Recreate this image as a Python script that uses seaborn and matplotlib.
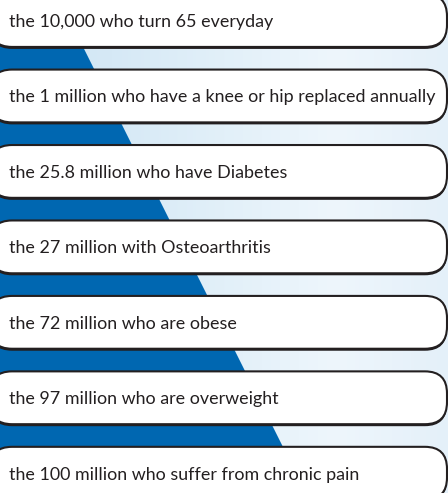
import numpy as np
import matplotlib
matplotlib.use("Agg")
import matplotlib.pyplot as plt
import matplotlib.colors as mcolors
import seaborn as sns
from matplotlib.patches import FancyBboxPatch, Polygon

# facts shown in the banners, top to bottom
labels = [
    "the 10,000 who turn 65 everyday",
    "the 1 million who have a knee or hip replaced annually",
    "the 25.8 million who have Diabetes",
    "the 27 million with Osteoarthritis",
    "the 72 million who are obese",
    "the 97 million who are overweight",
    "the 100 million who suffer from chronic pain",
]
box_len = [1, 1, 1, 1, 1, 1, 1]  # every banner runs the full width

sns.set_theme(style="white")
plt.rcParams["font.family"] = ["Lato", "DejaVu Sans"]

fig = plt.figure(figsize=(4.48, 4.93), dpi=100)
ax = fig.add_axes([0, 0, 1, 1])

# banners as seaborn bars, then swapped for rounded boxes
sns.barplot(x=box_len, y=labels, orient="h", width=0.70, color="white", ax=ax)
bars = list(ax.patches)

xlim = (0.0219, 1.0022)
ylim = (6.262, -0.272)
ax.set_xlim(*xlim)
ax.set_ylim(*ylim)

px_x = 448 / (xlim[1] - xlim[0])   # pixels per x unit
px_y = 493 / (ylim[0] - ylim[1])   # pixels per y unit
aspect = px_x / px_y
rad = 22 / px_x

# sky background + blue wedge
grad = np.linspace(0, 1, 256)[None, :]
sky = mcolors.LinearSegmentedColormap.from_list(
    "sky", ["#cfe4f4", "#d6e9f6", "#e2f0f9", "#eef6fc", "#e4f0f9"])
ax.imshow(np.tile(grad, (8, 1)), cmap=sky, extent=[0, 1, 0, 1],
          transform=ax.transAxes, aspect="auto", zorder=0)
wedge = Polygon([(0, 1), (0.133, 1), (0.683, 0), (0, 0)], closed=True,
                transform=ax.transAxes, fc="#0067b1", ec="none", zorder=1)
ax.add_patch(wedge)

for i, bar in enumerate(bars):
    x0, y0 = bar.get_x(), bar.get_y()
    w, h = bar.get_width(), bar.get_height()
    bar.remove()
    style = f"round,pad=0,rounding_size={rad}"
    shadow = FancyBboxPatch((x0, y0 + 2 / px_y), w, h, boxstyle=style,
                            mutation_aspect=aspect, fc="#231f20", ec="none", zorder=2)
    box = FancyBboxPatch((x0, y0), w, h, boxstyle=style, mutation_aspect=aspect,
                         fc="white", ec="#231f20", lw=1.5, zorder=3)
    ax.add_patch(shadow)
    ax.add_patch(box)
    ax.text(x0 + 19 / px_x, y0 + h / 2, labels[i], ha="left", va="center_baseline",
            fontsize=12.9, color="#231f20", zorder=4)

ax.set_xlim(*xlim)
ax.set_ylim(*ylim)
ax.set_axis_off()

fig.savefig("out.png", dpi=100)
